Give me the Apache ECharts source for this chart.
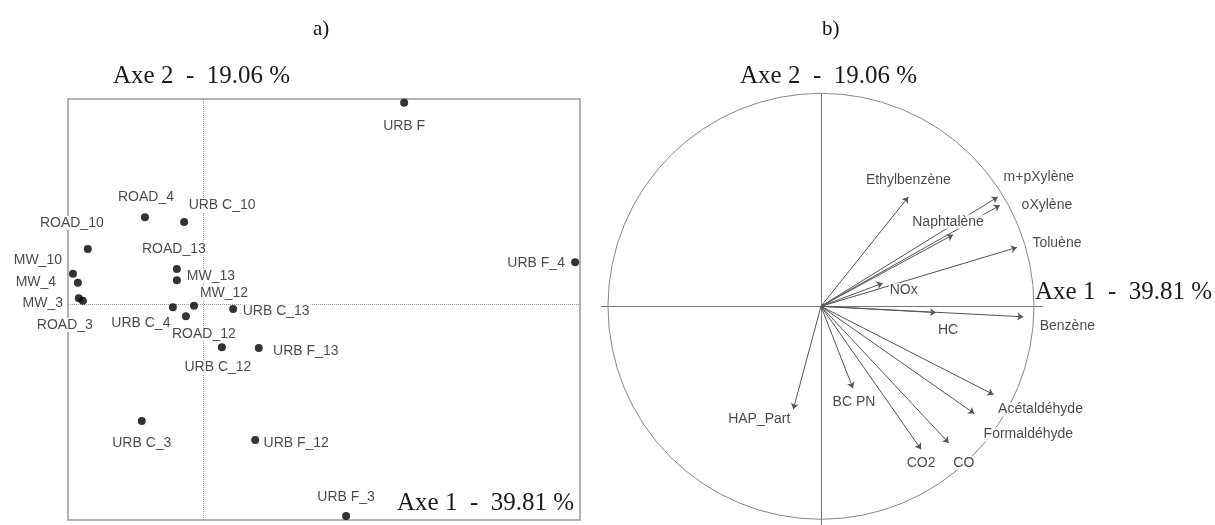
<!DOCTYPE html>
<html>
<head>
<meta charset="utf-8">
<script src="https://cdn.jsdelivr.net/npm/echarts@6/dist/echarts.min.js"></script>
<style>
html,body{margin:0;padding:0;background:#fff;}
#c{width:1215px;height:525px;}
</style>
</head>
<body>
<div id="c"></div>
<script>
// ---------- DATA ----------
// Panel a) individuals on the factorial plane (Axe 1, Axe 2)
const obsNames = ['URB F','URB F_4','ROAD_4','URB C_10','ROAD_10','ROAD_13','MW_13','MW_10','MW_4','MW_3','ROAD_3','URB C_4','MW_12','URB C_13','ROAD_12','URB C_12','URB F_13','URB C_3','URB F_12','URB F_3'];
const obsAxe1 = [4.47, 8.27, -1.29, -0.42, -2.56, -0.58, -0.58, -2.89, -2.78, -2.76, -2.67, -0.67, -0.20, 0.67, -0.38, 0.42, 1.24, -1.36, 1.16, 3.18];
const obsAxe2 = [4.47, 0.93, 1.93, 1.82, 1.22, 0.78, 0.53, 0.67, 0.47, 0.13, 0.07, -0.07, -0.04, -0.11, -0.27, -0.96, -0.98, -2.60, -3.02, -4.71];

// Panel b) variables correlation circle
const varNames = ['Ethylbenzène','m+pXylène','oXylène','Naphtalène','Toluène','NOx','HC','Benzène','HAP_Part','BC PN','CO2','CO','Formaldéhyde','Acétaldéhyde'];
const varAxe1 = [0.41, 0.83, 0.84, 0.62, 0.92, 0.29, 0.54, 0.95, -0.13, 0.15, 0.47, 0.60, 0.72, 0.81];
const varAxe2 = [0.52, 0.52, 0.48, 0.34, 0.28, 0.11, -0.03, -0.05, -0.49, -0.39, -0.68, -0.65, -0.51, -0.42];

// Texts
const panelTitles = ['a)', 'b)'];
const axisTitles = ['Axe 1  -  39.81 %', 'Axe 2  -  19.06 %'];

// ---------- LAYOUT (label offsets in px, relative to the point) ----------
const obsLabelOffset = {
  'URB F':[0,23],'URB F_4':[-39,1],'ROAD_4':[1,-20],'URB C_10':[38,-17],'ROAD_10':[-16,-26],
  'ROAD_13':[-3,-20],'MW_13':[34,-4],'MW_10':[-35,-14],'MW_4':[-42,-1],'MW_3':[-36,5],
  'ROAD_3':[-18,24],'URB C_4':[-32,16],'MW_12':[30,-13],'URB C_13':[43,2],'ROAD_12':[18,18],
  'URB C_12':[-4,20],'URB F_13':[47,3],'URB C_3':[0,22],'URB F_12':[41,3],'URB F_3':[0,-19]
};
const varLabelOffset = {
  'Ethylbenzène':[0,-17],'m+pXylène':[41,-20],'oXylène':[47,0],'Naphtalène':[-5,-13],
  'Toluène':[40,-4],'NOx':[21,7],'HC':[12,18],'Benzène':[44,9],'HAP_Part':[-34,10],
  'BC PN':[1,14],'CO2':[0,14],'CO':[15,20],'Formaldéhyde':[54,21],'Acétaldéhyde':[47,15]
};

// ---------- CHART ----------
const chart = echarts.init(document.getElementById('c'), null, {renderer:'canvas'});
const labelFont = {fontFamily:'"Liberation Sans", Arial, sans-serif', fontSize:14, color:'#1a1a1a'};
const serif = '"Liberation Serif", "Times New Roman", serif';

const obsData = obsNames.map((n,i)=>({
  name:n, value:[obsAxe1[i], obsAxe2[i]],
  label:{offset: obsLabelOffset[n]}
}));
const varLabelData = varNames.map((n,i)=>({
  name:n, value:[varAxe1[i], varAxe2[i]],
  label:{offset: varLabelOffset[n]}
}));
const arrowData = varNames.map((n,i)=>({coords:[[0,0],[varAxe1[i], varAxe2[i]]]}));

const hiddenAxis = {show:true, axisLine:{show:false}, axisTick:{show:false}, axisLabel:{show:false}, splitLine:{show:false}};

chart.setOption({
  animation:false,
  backgroundColor:'#fff',
  grid:[
    {left:68, top:99, width:512, height:421, show:true, borderColor:'#999', borderWidth:1.5, backgroundColor:'transparent'},
    {left:601.6, top:93.9, width:440.9, height:436.65}
  ],
  xAxis:[
    Object.assign({type:'value', gridIndex:0, min:-3.0, max:8.378}, hiddenAxis),
    {type:'value', gridIndex:1, min:-1.03, max:1.04,
     axisLine:{show:true, onZero:true, lineStyle:{color:'#777', width:1}},
     axisTick:{show:false}, axisLabel:{show:false}, splitLine:{show:false}}
  ],
  yAxis:[
    Object.assign({type:'value', gridIndex:0, min:-4.8, max:4.556}, hiddenAxis),
    {type:'value', gridIndex:1, min:-1.04, max:1.01,
     axisLine:{show:true, onZero:true, lineStyle:{color:'#777', width:1}},
     axisTick:{show:false}, axisLabel:{show:false}, splitLine:{show:false}}
  ],
  graphic:[
    {type:'text', left:313, top:19, style:{text:panelTitles[0], font:'21px '+serif, fill:'#111'}},
    {type:'text', left:822, top:19, style:{text:panelTitles[1], font:'21px '+serif, fill:'#111'}},
    {type:'text', left:113, top:64, style:{text:axisTitles[1], font:'25px '+serif, fill:'#1a1a1a'}},
    {type:'text', left:397, top:491, style:{text:axisTitles[0], font:'25px '+serif, fill:'#1a1a1a'}},
    {type:'text', left:740, top:64, style:{text:axisTitles[1], font:'25px '+serif, fill:'#1a1a1a'}},
    {type:'text', left:1035, top:280, style:{text:axisTitles[0], font:'25px '+serif, fill:'#1a1a1a'}}
  ],
  series:[
    {
      type:'scatter', xAxisIndex:0, yAxisIndex:0, symbolSize:8,
      itemStyle:{color:'#000'}, z:3,
      data:obsData,
      label:Object.assign({show:true, position:'inside', formatter:'{b}', backgroundColor:'#fff', padding:[0,1]}, labelFont),
      markLine:{
        silent:true, symbol:'none', label:{show:false},
        lineStyle:{type:'dotted', color:'#999', width:1},
        data:[{xAxis:0},{yAxis:0}], z:1
      }
    },
    {
      type:'custom', xAxisIndex:1, yAxisIndex:1, data:[[0,0]], silent:true, z:1,
      renderItem:function(params, api){
        const c = api.coord([0,0]);
        const s = api.size([1,1]);
        return {type:'circle', shape:{cx:c[0], cy:c[1], r:s[0]}, style:{fill:'none', stroke:'#888', lineWidth:1}};
      }
    },
    {
      type:'lines', coordinateSystem:'cartesian2d', xAxisIndex:1, yAxisIndex:1, z:2,
      symbol:['none','arrow'], symbolSize:6,
      lineStyle:{color:'#555', width:1, opacity:1},
      data:arrowData
    },
    {
      type:'scatter', xAxisIndex:1, yAxisIndex:1, symbolSize:1, z:4,
      itemStyle:{color:'rgba(0,0,0,0)'},
      data:varLabelData,
      label:Object.assign({show:true, position:'inside', formatter:'{b}', backgroundColor:'#fff', padding:[0,1]}, labelFont)
    }
  ]
});
</script>
</body>
</html>
